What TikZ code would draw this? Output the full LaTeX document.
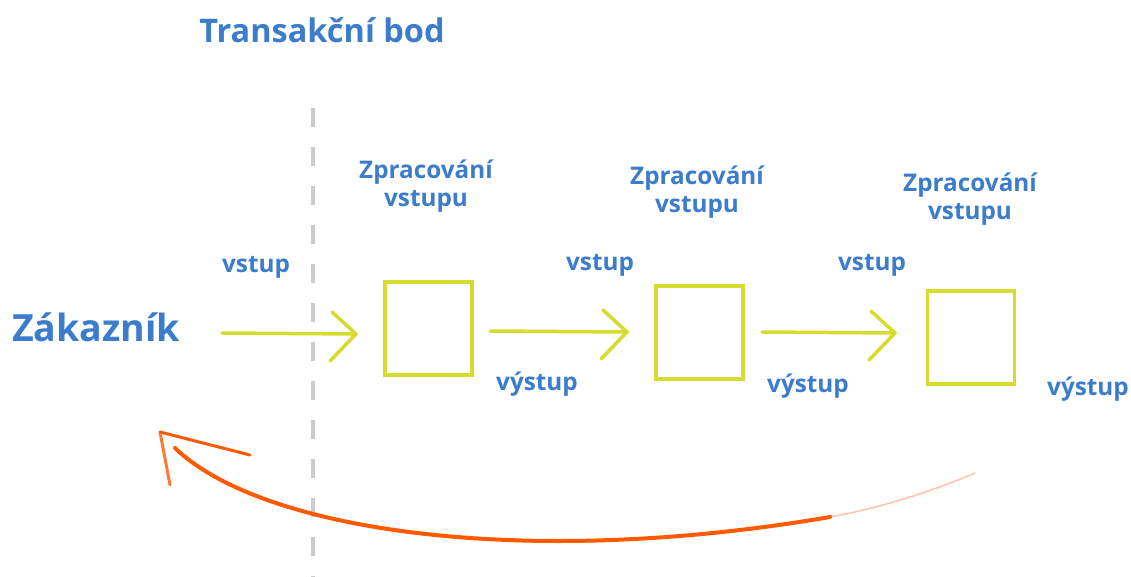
\documentclass[tikz,border=0pt]{standalone}
\usepackage{fontspec}
\setmainfont{Open Sans}
\usetikzlibrary{calc}
\definecolor{txtblue}{HTML}{3B7DCC}
\definecolor{chalk}{HTML}{D5DC2B}
\definecolor{flow}{HTML}{FF5A00}
\definecolor{divider}{HTML}{CBCBCD}
\begin{document}
\begin{tikzpicture}[x=1pt,y=-1pt,
  lbl/.style={text=txtblue,font=\bfseries\fontsize{24.3}{28}\selectfont,inner sep=0pt,align=center},
  box/.style={draw=chalk,line width=3.5pt,minimum width=87pt,minimum height=93pt,inner sep=0pt},
  chalkline/.style={draw=chalk,line width=3.5pt,line cap=round,line join=round},
  back/.style={draw=flow,line width=4pt,line cap=round}]
\useasboundingbox (0,0) rectangle (1131,577);

% title and customer
\node[lbl,font=\bfseries\fontsize{32.5}{36}\selectfont] (title) at (322,30) {Transakční bod};
\node[lbl,font=\bfseries\fontsize{37.5}{42}\selectfont] (cust) at (96,327) {Zákazník};

% transaction boundary
\draw[divider,line width=4pt,dash pattern=on 19pt off 20pt] (313,108) -- (313,577);

% processing steps
\node[box] (b1) at (428.5,328.5) {};
\node[box] (b2) at (699.5,332.5) {};
\node[box] (b3) at (971,337.5) {};

\node[lbl] (z1) at (426,186) {Zpracování\\vstupu};
\node[lbl] (z2) at (697,192) {Zpracování\\vstupu};
\node[lbl] (z3) at (970,199) {Zpracování\\vstupu};

\node[lbl] (i1) at (256,267) {vstup};
\node[lbl] (i2) at (600,265) {vstup};
\node[lbl] (i3) at (872,265) {vstup};

\node[lbl] (o1) at (537,384) {výstup};
\node[lbl] (o2) at (808,386) {výstup};
\node[lbl] (o3) at (1088,389) {výstup};

% input arrows
\coordinate (s0) at (222,333);
\coordinate (t1) at (356,334);
\coordinate (s1) at (490,331);
\coordinate (t2) at (627,332);
\coordinate (s2) at (762,332);
\coordinate (t3) at (895,333);
\foreach \s/\t in {s0/t1,s1/t2,s2/t3}{
  \draw[chalkline] (\s) -- (\t);
  \draw[chalkline] ($(\t)+(-24,-22)$) -- (\t) -- ($(\t)+(-26,27)$);
}

% feedback to the customer
\coordinate (fb0) at (975,473);
\coordinate (fb1) at (830,517);
\coordinate (tip) at (160,432);
\coordinate (fb2) at (175,448);
\draw[back,line width=1.5pt,opacity=0.35] (fb0) .. controls (930,492) and (880,508) .. (fb1);
\draw[back] (fb1) .. controls (520,570) and (260,530) .. (fb2);
\draw[back,line width=3pt] (tip) -- (250,455);
\draw[back,line width=3pt,opacity=0.8] (tip) -- (170,485);
\end{tikzpicture}
\end{document}
